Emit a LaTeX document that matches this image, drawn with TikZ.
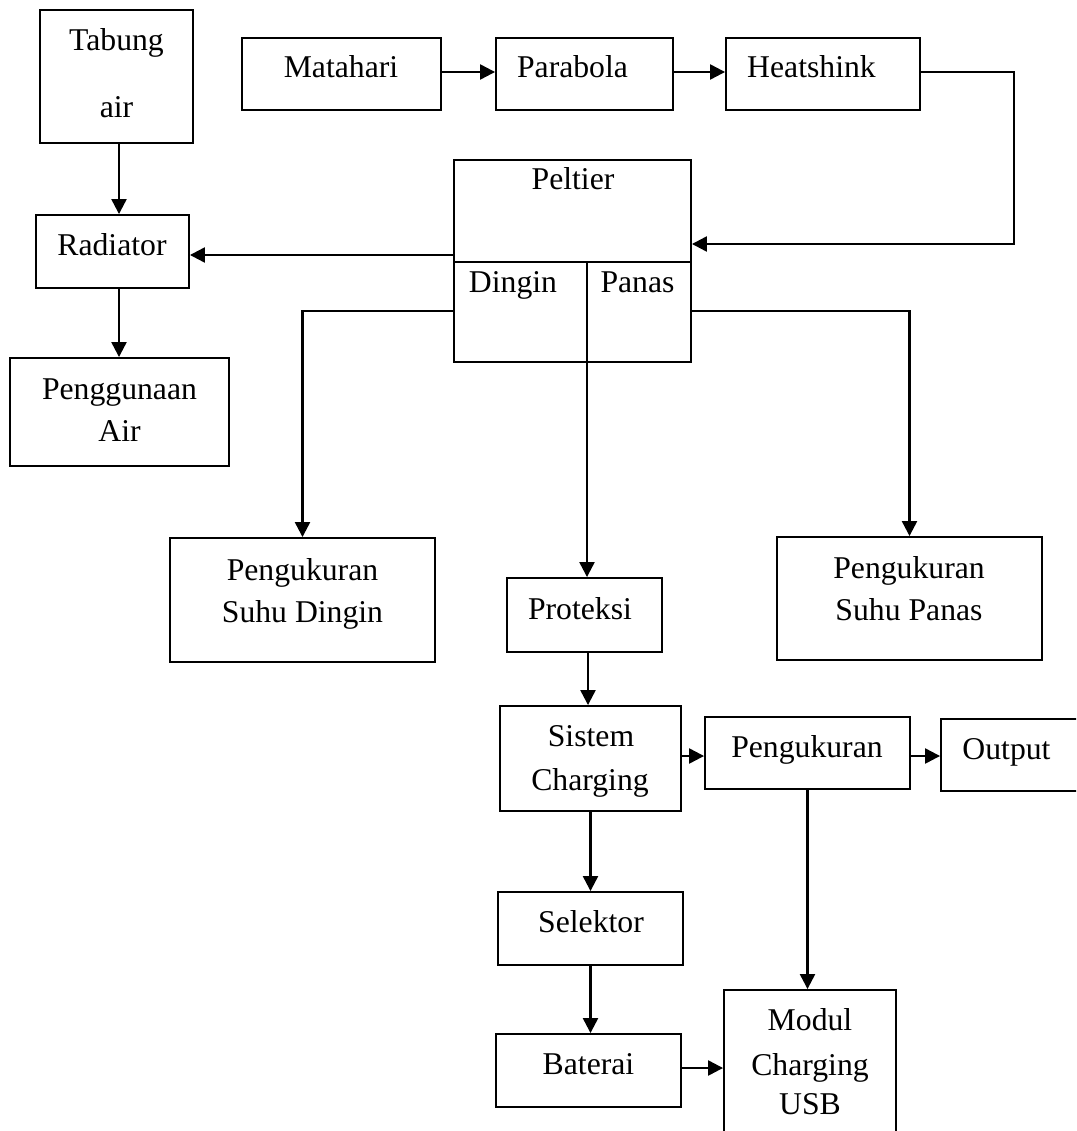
\documentclass[tikz,border=0pt]{standalone}
\usepackage{fontspec}
\setmainfont{Liberation Serif}
\usetikzlibrary{arrows.meta}
\begin{document}
\begin{tikzpicture}[x=1pt,y=-1pt,
  box/.style={draw,line width=1.9pt,rectangle,inner sep=0pt},
  lbl/.style={anchor=base,inner sep=0pt,font=\fontsize{31.7}{42}\selectfont},
  arr/.style={line width=2.3pt,-{Triangle[length=15pt,width=15pt]}},
  boxline/.style={line width=1.9pt}]
\useasboundingbox (0,0) rectangle (1076,1131);
\clip (0,0) rectangle (1076,1131);
\fill[white] (0,0) rectangle (1076,1131);
% boxes
\node[box,minimum width=153pt,minimum height=133pt] (tabung) at (116.5,76.5) {};
\node[box,minimum width=199pt,minimum height=72pt] (matahari) at (341.5,74) {};
\node[box,minimum width=177pt,minimum height=72pt] (parabola) at (584.5,74) {};
\node[box,minimum width=194pt,minimum height=72pt] (heatshink) at (823,74) {};
\node[box,minimum width=237pt,minimum height=202pt] (peltier) at (572.5,261) {};
\node[box,minimum width=153pt,minimum height=73pt] (radiator) at (112.5,251.5) {};
\node[box,minimum width=219pt,minimum height=108pt] (penggunaan) at (119.5,412) {};
\node[box,minimum width=265pt,minimum height=124pt] (dbox) at (302.5,600) {};
\node[box,minimum width=265pt,minimum height=123pt] (pbox) at (909.5,598.5) {};
\node[box,minimum width=155pt,minimum height=74pt] (proteksi) at (584.5,615) {};
\node[box,minimum width=181pt,minimum height=105pt] (sistem) at (590.5,758.5) {};
\node[box,minimum width=205pt,minimum height=72pt] (peng) at (807.5,753) {};
\node[box,minimum width=159pt,minimum height=72pt] (output) at (1020.5,755) {};
\node[box,minimum width=185pt,minimum height=73pt] (selektor) at (590.5,928.5) {};
\node[box,minimum width=185pt,minimum height=73pt] (baterai) at (588.5,1070.5) {};
\node[box,minimum width=172pt,minimum height=170pt] (modul) at (810,1075) {};
% peltier dividers
\coordinate (pd) at (587,262);
\draw[boxline] (peltier.west |- pd) -- (peltier.east |- pd);
\draw[boxline] (pd) -- (peltier.south -| pd);
% labels
\node[lbl] (tTabung) at (116.5,50.7) {Tabung};
\node[lbl] (tAir) at (116.5,118) {air};
\node[lbl] (tMatahari) at (341,78) {Matahari};
\node[lbl] (tParabola) at (572.5,78) {Parabola};
\node[lbl] (tHeatshink) at (811.5,78) {Heatshink};
\node[lbl] (tPeltier) at (573,190) {Peltier};
\node[lbl] (tDingin) at (513,292) {Dingin};
\node[lbl] (tPanas) at (637.5,292) {Panas};
\node[lbl] (tRadiator) at (112,256) {Radiator};
\node[lbl] (tPenggunaan) at (119.5,399) {Penggunaan};
\node[lbl] (tAir2) at (119.5,441) {Air};
\node[lbl] (tPD1) at (302.5,580) {Pengukuran};
\node[lbl] (tPD2) at (302.5,622) {Suhu Dingin};
\node[lbl] (tPP1) at (909,578) {Pengukuran};
\node[lbl] (tPP2) at (909,620) {Suhu Panas};
\node[lbl] (tProteksi) at (580,619) {Proteksi};
\node[lbl] (tSistem) at (591,746) {Sistem};
\node[lbl] (tCharging) at (590,790) {Charging};
\node[lbl] (tPeng) at (807,757) {Pengukuran};
\node[lbl] (tOutput) at (1006.5,759) {Output};
\node[lbl] (tSelektor) at (591,932) {Selektor};
\node[lbl] (tBaterai) at (588.5,1074) {Baterai};
\node[lbl] (tModul) at (810,1030) {Modul};
\node[lbl] (tModul2) at (810,1075) {Charging};
\node[lbl] (tModul3) at (810,1114) {USB};
% helper coordinates
\coordinate (xTR) at (119,0);
\coordinate (yM) at (0,72);
\coordinate (hc) at (1014,244);
\coordinate (yPR) at (0,255);
\coordinate (yD) at (0,311);
\coordinate (xPS) at (588,0);
\coordinate (ySP) at (0,756);
\coordinate (yBM) at (0,1068);
% connectors
\draw[arr] (tabung.south -| xTR) -- (radiator.north -| xTR);
\draw[arr] (radiator.south -| xTR) -- (penggunaan.north -| xTR);
\draw[arr] (matahari.east |- yM) -- (parabola.west |- yM);
\draw[arr] (parabola.east |- yM) -- (heatshink.west |- yM);
\draw[arr] (heatshink.east |- yM) -| (hc) -- (peltier.east |- hc);
\draw[arr] (peltier.west |- yPR) -- (radiator.east |- yPR);
\draw[arr] (peltier.west |- yD) -| (dbox.north);
\draw[arr] (peltier.east |- yD) -| (pbox.north);
\draw[arr] (peltier.south -| pd) -- (proteksi.north -| pd);
\draw[arr] (proteksi.south -| xPS) -- (sistem.north -| xPS);
\draw[arr] (sistem.east |- ySP) -- (peng.west |- ySP);
\draw[arr] (peng.east |- ySP) -- (output.west |- ySP);
\draw[arr] (peng.south) -- (peng.south |- modul.north);
\draw[arr] (sistem.south) -- (selektor.north);
\draw[arr] (selektor.south) -- (selektor.south |- baterai.north);
\draw[arr] (baterai.east |- yBM) -- (modul.west |- yBM);
\end{tikzpicture}
\end{document}
